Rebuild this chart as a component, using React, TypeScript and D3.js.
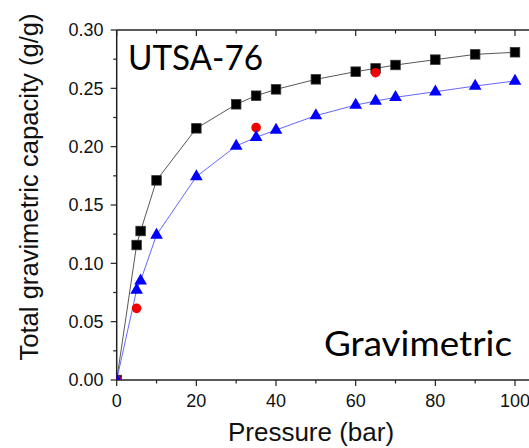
import React from "react";
import * as d3 from "d3";

const W = 529;
const H = 448;

const blackX = [0, 5, 6, 10, 20, 30, 35, 40, 50, 60, 65, 70, 80, 90, 100];
const blackY = [0, 0.1157, 0.1277, 0.1711, 0.2157, 0.2363, 0.2437, 0.2491, 0.2577, 0.2643, 0.2671, 0.27, 0.2746, 0.2791, 0.2809];

const blueX = [0, 5, 6, 10, 20, 30, 35, 40, 50, 60, 65, 70, 80, 90, 100];
const blueY = [0, 0.0771, 0.0851, 0.1243, 0.1743, 0.2006, 0.208, 0.2143, 0.2266, 0.2357, 0.2391, 0.2423, 0.2471, 0.252, 0.2563];

const redX = [0, 5, 35, 65];
const redY = [0, 0.0614, 0.2163, 0.2634];

const xMajor = [0, 20, 40, 60, 80, 100];
const xMinor = [10, 30, 50, 70, 90];
const yMajor = [0, 0.05, 0.1, 0.15, 0.2, 0.25, 0.3];
const yMinor = [0.025, 0.075, 0.125, 0.175, 0.225, 0.275];

export default function App() {
  const x = d3.scaleLinear().domain([0, 100]).range([116.7, 515]);
  const y = d3.scaleLinear().domain([0, 0.3]).range([380, 30]);
  const left = x(0);
  const right = W;
  const top = y(0.3);
  const bottom = y(0);

  const line = d3
    .line<[number, number]>()
    .x((d) => x(d[0]))
    .y((d) => y(d[1]));

  const black: [number, number][] = blackX.map((v, i) => [v, blackY[i]]);
  const blue: [number, number][] = blueX.map((v, i) => [v, blueY[i]]);
  const red: [number, number][] = redX.map((v, i) => [v, redY[i]]);

  const sq = 9.5;
  const tri = d3.symbol().type(d3.symbolTriangle).size(70)();
  const axisColor = "#222";
  const tickFont = "'Liberation Sans', Arial, sans-serif";

  return (
    <svg
      width={W}
      height={H}
      style={{ position: "absolute", left: 0, top: 0, background: "#fff" }}
    >
      <defs>
        <clipPath id="plot">
          <rect x={left} y={top} width={right - left} height={bottom - top} />
        </clipPath>
      </defs>

      {/* axes */}
      <line x1={left} x2={right} y1={top} y2={top} stroke={axisColor} strokeWidth={1.3} />
      <line x1={left} x2={right} y1={bottom} y2={bottom} stroke={axisColor} strokeWidth={1.3} />
      <line x1={left} x2={left} y1={top} y2={bottom} stroke={axisColor} strokeWidth={1.5} />

      {/* bottom ticks (outward) and top ticks (inward) */}
      {xMajor.map((t) => (
        <g key={"xM" + t}>
          <line x1={x(t)} x2={x(t)} y1={bottom} y2={bottom + 6} stroke={axisColor} strokeWidth={1.2} />
          <line x1={x(t)} x2={x(t)} y1={top} y2={top + 6} stroke={axisColor} strokeWidth={1.2} />
          <text
            x={x(t)}
            y={406.5}
            textAnchor="middle"
            fontFamily={tickFont}
            fontSize={18}
            fill="#111"
          >
            {t}
          </text>
        </g>
      ))}
      {xMinor.map((t) => (
        <g key={"xm" + t}>
          <line x1={x(t)} x2={x(t)} y1={bottom} y2={bottom + 3.5} stroke={axisColor} strokeWidth={1.2} />
          <line x1={x(t)} x2={x(t)} y1={top} y2={top + 3.5} stroke={axisColor} strokeWidth={1.2} />
        </g>
      ))}

      {/* left ticks (outward) */}
      {yMajor.map((t) => (
        <g key={"yM" + t}>
          <line x1={left - 6} x2={left} y1={y(t)} y2={y(t)} stroke={axisColor} strokeWidth={1.2} />
          <text
            x={103.5}
            y={y(t)}
            dy="0.35em"
            textAnchor="end"
            fontFamily={tickFont}
            fontSize={18}
            fill="#111"
          >
            {t.toFixed(2)}
          </text>
        </g>
      ))}
      {yMinor.map((t) => (
        <line key={"ym" + t} x1={left - 3.5} x2={left} y1={y(t)} y2={y(t)} stroke={axisColor} strokeWidth={1.2} />
      ))}

      {/* axis titles */}
      <text
        x={311}
        y={441}
        textAnchor="middle"
        fontFamily={tickFont}
        fontSize={26}
        fill="#111"
      >
        Pressure (bar)
      </text>
      <text
        transform={`translate(${37.5},${187}) rotate(-90)`}
        textAnchor="middle"
        fontFamily={tickFont}
        fontSize={25.6}
        fill="#111"
      >
        Total gravimetric capacity (g/g)
      </text>

      {/* annotations */}
      <text
        x={128}
        y={70}
        fontFamily="Lato, 'Open Sans', sans-serif"
        fontSize={35}
        textLength={135}
        lengthAdjust="spacingAndGlyphs"
        fill="#000"
      >
        UTSA-76
      </text>
      <text
        x={324}
        y={356}
        fontFamily="Lato, 'Open Sans', sans-serif"
        fontSize={34}
        textLength={188}
        lengthAdjust="spacingAndGlyphs"
        fill="#000"
      >
        Gravimetric
      </text>

      <g clipPath="url(#plot)">
        <path d={line(black) || ""} fill="none" stroke="#444" strokeWidth={0.9} />
        <path d={line(blue) || ""} fill="none" stroke="#5555ff" strokeWidth={0.9} />

        {black.map((d, i) => (
          <rect
            key={"b" + i}
            x={x(d[0]) - sq / 2}
            y={y(d[1]) - sq / 2}
            width={sq}
            height={sq}
            fill="#000"
            stroke="#333"
            strokeWidth={0.8}
          />
        ))}
        {red.map((d, i) => (
          <circle key={"r" + i} cx={x(d[0])} cy={y(d[1])} r={4.8} fill="#f00000" />
        ))}
        {blue.map((d, i) => (
          <path
            key={"t" + i}
            d={tri || ""}
            transform={`translate(${x(d[0])},${y(d[1])})`}
            fill="#0000ff"
          />
        ))}
      </g>
    </svg>
  );
}
